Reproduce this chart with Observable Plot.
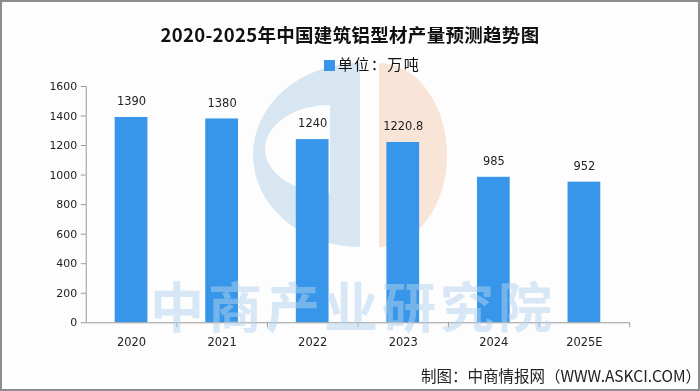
<!DOCTYPE html>
<html>
<head>
<meta charset="utf-8">
<script src="https://cdn.jsdelivr.net/npm/d3@7"></script>
<script src="https://cdn.jsdelivr.net/npm/@observablehq/plot@0.6"></script>
<style>
  html, body { margin: 0; padding: 0; background: #fff; }
  #frame { position: relative; width: 700px; height: 391px; box-sizing: border-box; border: 2px solid #8d8d8d; background: #fdfdfe; overflow: hidden; font-family: "Noto Sans CJK SC", "Noto Sans", sans-serif; }
  .abs { position: absolute; }
  #title { left: 0; width: 696px; top: 19px; text-align: center; font-size: 18.5px; font-weight: 700; color: #111; line-height: 26px; letter-spacing: 0.3px; }
  #legend { left: 22px; width: 696px; top: 51px; text-align: center; font-size: 15px; color: #111; line-height: 22px; letter-spacing: 1.5px; }
  #legend .sw { display: inline-block; width: 11px; height: 11px; background: #3896ea; margin-right: 3px; vertical-align: -1px; }
  #chart { left: -2px; top: 68px; }
  #logo { left: -2px; top: -2px; mix-blend-mode: multiply; pointer-events: none; }
  #wm { left: -2px; top: -2px; pointer-events: none; }
  #caption { right: -3px; top: 362px; font-size: 15.5px; color: #222; line-height: 22px; white-space: nowrap; }
</style>
</head>
<body>
<div id="frame">
  <svg id="logo" class="abs" width="700" height="391">
    <path d="M 360 63 A 107 92 0 0 0 360 247 Z" fill="rgb(218,232,243)"></path>
    <path d="M 330 105 A 65 44 0 0 0 330 193 Z" fill="#fff"></path>
    <path d="M 379 63 A 68 92 0 0 1 379 247 Z" fill="rgb(251,230,217)"></path>
  </svg>
  <div id="title" class="abs">2020-2025年中国建筑铝型材产量预测趋势图</div>
  <div id="legend" class="abs"><span class="sw"></span>单位：万吨</div>
  <div id="chart" class="abs"></div>
  <svg id="wm" class="abs" width="700" height="391">
    <text x="150" y="328" font-size="54" font-weight="700" letter-spacing="4" fill="rgba(178,209,236,0.5)" font-family="Noto Sans CJK SC">中商产业研究院</text>
  </svg>
  <div id="caption" class="abs">制图：中商情报网（WWW.ASKCI.COM）</div>
</div>
<script>
const years = ["2020", "2021", "2022", "2023", "2024", "2025E"];
const output = [1390, 1380, 1240, 1220.8, 985, 952];
const valueLabels = ["1390", "1380", "1240", "1220.8", "985", "952"];
const yTicks = [0, 200, 400, 600, 800, 1000, 1200, 1400, 1600];

const data = years.map((year, i) => ({ year, i, value: output[i], label: valueLabels[i] }));

const chart = Plot.plot({
  width: 700,
  height: 284,
  marginTop: 16,
  marginBottom: 31,
  marginLeft: 86,
  marginRight: 69,
  style: { fontFamily: "DejaVu Sans, sans-serif", fontSize: "11px", background: "transparent", overflow: "visible" },
  x: { type: "linear", domain: [0, years.length] },
  y: { domain: [0, 1600] },
  marks: [
    Plot.rectY(data, { x1: "i", x2: d => d.i + 1, y: "value", insetLeft: 29, insetRight: 29, fill: "#3896ea" }),
    Plot.ruleY([0], { stroke: "#9a9a9a" }),
    Plot.ruleX([0], { stroke: "#9a9a9a" }),
    Plot.axisY({ ticks: yTicks, tickSize: 5, tickPadding: 4, tickFormat: d => String(d), stroke: "#9a9a9a", fill: "#222", label: null }),
    Plot.axisX({ ticks: d3.range(1, years.length + 1), tickSize: 5, tickFormat: () => "", stroke: "#9a9a9a", label: null }),
    Plot.axisX({ ticks: d3.range(years.length).map(i => i + 0.5), tickSize: 0, tickPadding: 15, tickFormat: v => years[Math.floor(v)], fill: "#222", fontSize: 11.5, label: null }),
    Plot.text(data, { x: d => d.i + 0.5, y: "value", text: "label", dy: -16, fill: "#222", fontSize: 11.5 })
  ]
});
document.getElementById("chart").appendChild(chart);
</script>
</body>
</html>
